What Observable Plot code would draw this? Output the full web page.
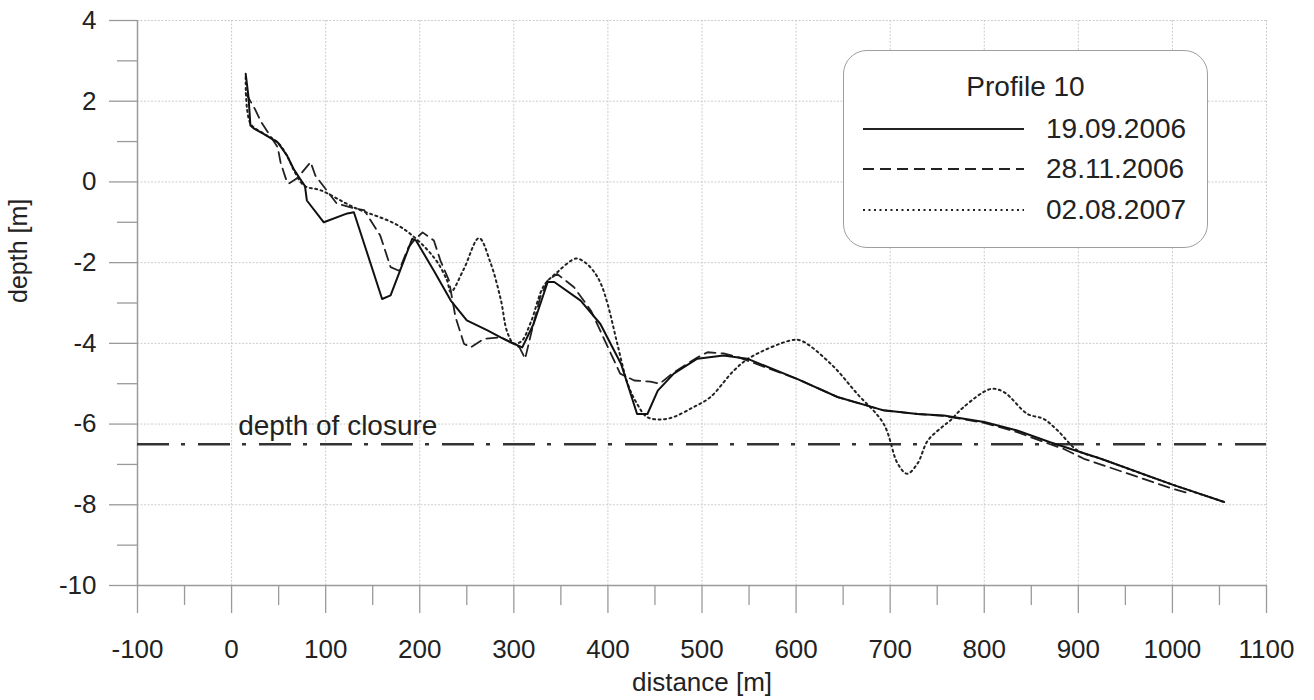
<!DOCTYPE html>
<html><head><meta charset="utf-8">
<script src="https://cdn.jsdelivr.net/npm/d3@7"></script>
<script src="https://cdn.jsdelivr.net/npm/@observablehq/plot@0.6"></script>
<style>
body{margin:0;background:#fff;font-family:"Liberation Sans",Arial,sans-serif;}
#wrap{position:relative;width:1314px;height:700px;}
#legend{position:absolute;left:843px;top:50px;width:363px;height:196px;border:1.5px solid #9f9f9f;border-radius:24px;background:#fff;color:#222;font-size:28px;}
#legend .title{position:absolute;left:0;width:100%;top:20px;text-align:center;}
#legend .row{position:absolute;left:18px;height:32px;}
#legend .row svg{position:absolute;left:0;top:0;}
#legend .row span{position:absolute;left:184px;top:0;line-height:32px;white-space:nowrap;}
</style>
</head><body>
<div id="wrap"></div>
<script>
// Series: 19.09.2006 (solid)
const s1Distance = [15,18,20,24,34,49,59,66,75,78,80,98,123,130,160,169,192,196,215,233,250,272,286,300,309,321,336,343,371,392,414,431,442,453,470,495,523,548,601,644,693,729,757,800,835,870,924,1000,1055];
const s1Depth    = [2.68,2.10,1.40,1.32,1.19,0.98,0.65,0.32,0.0,-0.1,-0.46,-1.0,-0.78,-0.75,-2.90,-2.81,-1.41,-1.45,-2.2,-2.94,-3.43,-3.68,-3.85,-4.01,-4.10,-3.52,-2.48,-2.48,-2.94,-3.52,-4.51,-5.75,-5.75,-5.17,-4.75,-4.38,-4.30,-4.38,-4.88,-5.33,-5.66,-5.75,-5.79,-5.95,-6.16,-6.45,-6.86,-7.5,-7.93];
// Series: 28.11.2006 (dashed)
const s2Distance = [15,25,31,49,52,56,59,61,70,84,89,112,130,141,158,169,178,188,194,203,215,222,231,238,247,254,268,286,300,306,312,320,328,336,346,364,382,413,428,445,455,470,495,506,523,538,601,644,693,729,757,800,835,870,884,906,1000,1015];
const s2Depth    = [2.2,1.8,1.5,0.86,0.49,0.2,-0.01,-0.04,0.1,0.49,0.16,-0.54,-0.65,-0.7,-1.33,-2.11,-2.2,-1.62,-1.45,-1.25,-1.45,-1.95,-2.44,-3.35,-4.01,-4.10,-3.89,-3.85,-4.01,-4.1,-4.38,-3.6,-2.86,-2.44,-2.28,-2.61,-3.19,-4.75,-4.92,-4.95,-5.0,-4.72,-4.35,-4.22,-4.25,-4.34,-4.88,-5.33,-5.66,-5.75,-5.8,-5.97,-6.2,-6.5,-6.61,-6.86,-7.6,-7.7];
// Series: 02.08.2007 (dotted)
const s3Distance = [15,20,34,49,60,66,77,95,130,180,215,229,233,247,263,275,286,293,300,308,318,332,346,366,376,386,393,400,410,421,431,442,463,491,509,534,552,594,605,637,665,693,708,718,729,740,757,764,778,807,821,846,863,878,899,924,1000,1055];
const s3Depth    = [2.6,1.45,1.2,0.98,0.6,0.3,-0.09,-0.21,-0.63,-1.12,-1.87,-2.44,-2.73,-2.15,-1.39,-1.99,-2.90,-3.72,-4.0,-3.95,-3.48,-2.57,-2.24,-1.9,-2.0,-2.25,-2.55,-3.05,-4.01,-5.0,-5.5,-5.83,-5.87,-5.58,-5.33,-4.67,-4.34,-3.93,-3.93,-4.51,-5.25,-5.99,-6.98,-7.23,-6.98,-6.41,-6.04,-5.91,-5.58,-5.13,-5.21,-5.75,-5.87,-6.16,-6.65,-6.86,-7.5,-7.93];

const seriesNames = ["19.09.2006","28.11.2006","02.08.2007"];
const closureDepth = -6.5;
const closureLabel = "depth of closure";
const legendTitle = "Profile 10";
const xMajor = [-100,0,100,200,300,400,500,600,700,800,900,1000,1100];
const xMinor = [-50,50,150,250,350,450,550,650,750,850,950,1050];
const yMajor = [-10,-8,-6,-4,-2,0,2,4];
const yMinor = [-9,-7,-5,-3,-1,1,3];
const xTitle = "distance [m]";
const yTitle = "depth [m]";

const pts = (xs, ys) => xs.map((x, i) => ({x, y: ys[i]}));
const s1 = pts(s1Distance, s1Depth), s2 = pts(s2Distance, s2Depth), s3 = pts(s3Distance, s3Depth);
const fmt = d => String(d);

const chart = Plot.plot({
  width: 1314, height: 700,
  marginLeft: 137, marginRight: 48, marginTop: 20, marginBottom: 115,
  x: {domain: [-100, 1100]},
  y: {domain: [-10, 4]},
  style: {fontFamily: "'Liberation Sans', Arial, sans-serif", fontSize: "26px", color: "#222", background: "#fff"},
  marks: [
    Plot.gridX(xMajor, {stroke: "#cdcdcd", strokeOpacity: 1, strokeDasharray: "2,1.5"}),
    Plot.gridY(yMajor, {stroke: "#cdcdcd", strokeOpacity: 1, strokeDasharray: "2,1.5"}),
    Plot.ruleX([-100], {stroke: "#9a9a9a", strokeWidth: 1.5}),
    Plot.ruleY([-10], {stroke: "#9a9a9a", strokeWidth: 1.5}),
    Plot.axisX({ticks: xMajor, tickSize: 28, tickPadding: 26, tickFormat: fmt, stroke: "#9a9a9a", fill: "#222", label: null, strokeWidth: 1.3, fontSize: 26}),
    Plot.axisX({ticks: xMinor, tickSize: 20, tickFormat: () => "", stroke: "#9a9a9a", label: null, strokeWidth: 1.3}),
    Plot.axisY({ticks: yMajor, tickSize: 28, tickPadding: 13, tickFormat: fmt, stroke: "#9a9a9a", fill: "#222", label: null, strokeWidth: 1.3, fontSize: 26}),
    Plot.axisY({ticks: yMinor, tickSize: 20, tickFormat: () => "", stroke: "#9a9a9a", label: null, strokeWidth: 1.3}),
    Plot.text([xTitle], {frameAnchor: "bottom", dy: 105, fill: "#222", fontSize: 26}),
    Plot.text([yTitle], {frameAnchor: "left", dx: -119, rotate: -90, fill: "#222", fontSize: 25}),
    Plot.ruleY([closureDepth], {stroke: "#333", strokeWidth: 2.4, strokeDasharray: "32,12,4,13"}),
    Plot.text([closureLabel], {x: 7, y: closureDepth, dy: -18, textAnchor: "start", fill: "#222", fontSize: 28}),
    Plot.line(s3, {x: "x", y: "y", stroke: "#222", strokeWidth: 2, strokeDasharray: "2,3.5", curve: "catmull-rom"}),
    Plot.line(s2, {x: "x", y: "y", stroke: "#222", strokeWidth: 1.8, strokeDasharray: "11,6"}),
    Plot.line(s1, {x: "x", y: "y", stroke: "#111", strokeWidth: 2})
  ]
});
const wrap = document.getElementById("wrap");
wrap.appendChild(chart);

// Legend
const legend = document.createElement("div");
legend.id = "legend";
const t = document.createElement("div");
t.className = "title"; t.textContent = legendTitle;
legend.appendChild(t);
const dashes = ["", "11,6", "2,3.5"];
const rowsTop = [62, 102, 143];
seriesNames.forEach((name, i) => {
  const row = document.createElement("div");
  row.className = "row";
  row.style.top = rowsTop[i] + "px";
  row.innerHTML = `<svg width="165" height="32"><line x1="1" x2="162" y1="16" y2="16" stroke="#222" stroke-width="2" ${dashes[i] ? `stroke-dasharray="${dashes[i]}"` : ""}/></svg><span>${name}</span>`;
  legend.appendChild(row);
});
wrap.appendChild(legend);
</script>
</body></html>
